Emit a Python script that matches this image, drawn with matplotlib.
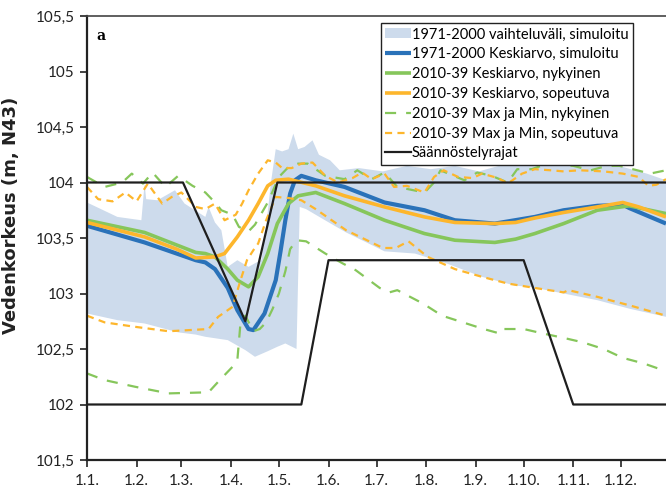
import matplotlib
matplotlib.use("Agg")
import matplotlib.pyplot as plt
import numpy as np

plt.rcParams['font.family'] = ['Lato', 'DejaVu Sans']

# päivä vuoden alusta (0 = 1.1.)
month_days = [0, 31, 59, 90, 120, 151, 181, 212, 243, 273, 304, 334]
month_labels = ["1.1.", "1.2.", "1.3.", "1.4.", "1.5.", "1.6.",
                "1.7.", "1.8.", "1.9.", "1.10.", "1.11.", "1.12."]

# 1971-2000 vaihteluväli (ylä- ja alareuna)
band_up_d = [0, 19, 34, 36, 37, 44, 55, 61, 74, 76, 80, 84, 88, 94, 101, 106, 109,
             112, 115, 118, 122, 126, 129, 132, 136, 141, 145, 152, 158, 170, 185,
             200, 215, 230, 245, 260, 275, 290, 305, 320, 335, 350, 362]
band_up_v = [103.82, 103.69, 103.66, 103.99, 103.85, 103.84, 103.93, 103.81, 103.69,
             103.78, 103.64, 103.57, 103.24, 103.30, 103.24, 103.28, 103.30, 103.60,
             104.00, 104.30, 104.28, 104.30, 104.44, 104.30, 104.32, 104.38, 104.25,
             104.20, 104.11, 104.13, 104.10, 104.15, 104.12, 104.15, 104.10, 104.16,
             104.18, 104.20, 104.16, 104.18, 104.14, 104.08, 104.02]
band_lo_d = [0, 19, 36, 57, 68, 74, 88, 99, 105, 113, 119, 124, 131, 133, 137, 150,
             162, 186, 205, 225, 247, 268, 277, 298, 319, 340, 362]
band_lo_v = [102.82, 102.76, 102.73, 102.65, 102.63, 102.61, 102.58, 102.49, 102.43,
             102.48, 102.52, 102.55, 102.50, 103.78, 103.76, 103.65, 103.55, 103.38,
             103.36, 103.27, 103.15, 103.07, 103.06, 103.00, 102.94, 102.86, 102.79]

# 1971-2000 keskiarvo, simuloitu
blue_d = [0, 36, 50, 68, 74, 80, 88, 94, 101, 104, 111, 118, 121, 124, 127, 130,
          134, 143, 161, 186, 211, 230, 255, 280, 298, 319, 335, 339, 362]
blue_v = [103.61, 103.46, 103.39, 103.30, 103.28, 103.22, 103.05, 102.85, 102.68,
          102.67, 102.82, 103.12, 103.38, 103.66, 103.90, 104.02, 104.06, 104.02,
          103.96, 103.82, 103.75, 103.66, 103.63, 103.69, 103.75, 103.79, 103.80,
          103.77, 103.63]

# 2010-39 keskiarvo, nykyinen
green_d = [0, 36, 68, 74, 80, 88, 94, 101, 107, 113, 119, 126, 132, 143, 161, 186,
           211, 230, 255, 268, 280, 298, 319, 339, 362]
green_v = [103.66, 103.55, 103.37, 103.36, 103.33, 103.22, 103.12, 103.06, 103.15,
           103.36, 103.63, 103.81, 103.88, 103.91, 103.81, 103.66, 103.54, 103.48,
           103.46, 103.49, 103.54, 103.63, 103.75, 103.79, 103.72]

# 2010-39 keskiarvo, sopeutuva
orange_d = [0, 36, 56, 68, 80, 86, 94, 101, 107, 113, 118, 126, 143, 161, 186, 211,
            230, 255, 268, 280, 298, 319, 335, 345, 362]
orange_v = [103.64, 103.51, 103.40, 103.32, 103.33, 103.36, 103.51, 103.66, 103.81,
            103.97, 104.02, 104.03, 103.97, 103.88, 103.78, 103.69, 103.64, 103.63,
            103.64, 103.68, 103.73, 103.78, 103.82, 103.78, 103.69]

# 2010-39 max ja min, nykyinen
gmax_d = [0, 11, 22, 28, 35, 41, 49, 57, 66, 74, 80, 84, 91, 95, 101, 105, 113, 120,
          126, 132, 138, 149, 161, 169, 178, 186, 194, 211, 217, 221, 236, 244, 253,
          263, 269, 278, 288, 304, 315, 325, 333, 344, 352, 362]
gmax_v = [104.05, 103.96, 104.00, 104.08, 103.99, 104.09, 103.96, 104.06, 103.97,
          103.91, 103.82, 103.75, 103.71, 103.60, 103.56, 103.62, 103.82, 104.05,
          104.14, 104.17, 104.17, 104.06, 104.03, 104.11, 104.03, 104.09, 103.96,
          103.91, 104.00, 104.11, 104.02, 104.09, 104.06, 104.00, 104.12, 104.12,
          104.17, 104.15, 104.11, 104.15, 104.15, 104.11, 104.08, 104.11]
gmin_d = [0, 11, 30, 51, 76, 83, 91, 94, 96, 99, 104, 108, 112, 116, 120, 124, 127,
          131, 137, 149, 160, 168, 183, 189, 194, 210, 222, 235, 248, 258, 260, 273,
          285, 298, 310, 323, 335, 348, 362]
gmin_v = [102.28, 102.22, 102.16, 102.10, 102.11, 102.22, 102.34, 102.40, 102.74,
          102.80, 102.66, 102.68, 102.74, 102.86, 103.00, 103.20, 103.40, 103.48,
          103.47, 103.36, 103.27, 103.21, 103.05, 103.01, 103.03, 102.91, 102.80,
          102.74, 102.68, 102.64, 102.68, 102.68, 102.64, 102.60, 102.56, 102.50,
          102.42, 102.37, 102.30]

# 2010-39 max ja min, sopeutuva
omax_d = [0, 7, 16, 24, 31, 38, 47, 53, 59, 68, 74, 80, 86, 93, 97, 101, 107, 113,
          118, 122, 128, 134, 141, 149, 157, 166, 172, 178, 186, 192, 200, 211, 217,
          223, 232, 241, 247, 257, 263, 272, 280, 290, 298, 308, 323, 335, 345, 351,
          356, 362]
omax_v = [103.96, 103.85, 103.83, 103.91, 103.83, 103.99, 103.81, 103.87, 103.91,
          103.78, 103.76, 103.81, 103.66, 103.71, 103.81, 103.93, 104.08, 104.20,
          104.18, 104.13, 104.13, 104.17, 104.18, 104.06, 104.00, 104.04, 104.09,
          104.03, 104.08, 103.96, 103.97, 103.91, 104.05, 104.11, 104.05, 104.04,
          104.08, 104.04, 103.99, 104.08, 104.12, 104.11, 104.10, 104.11, 104.10,
          104.08, 104.05, 103.97, 103.98, 104.03]
omin_d = [0, 11, 30, 51, 76, 82, 91, 96, 100, 104, 107, 112, 118, 126, 134, 143,
          150, 162, 175, 185, 193, 201, 213, 230, 247, 263, 280, 298, 301, 319, 340,
          362]
omin_v = [102.80, 102.74, 102.70, 102.66, 102.68, 102.79, 102.88, 103.12, 103.30,
          103.39, 103.45, 103.66, 103.87, 103.86, 103.84, 103.76, 103.69, 103.57,
          103.48, 103.41, 103.41, 103.47, 103.33, 103.22, 103.15, 103.09, 103.05,
          103.01, 103.03, 102.97, 102.89, 102.80]

# säännöstelyrajat
reg_up_d = [0, 60, 99, 119, 362]
reg_up_v = [104.0, 104.0, 102.75, 104.0, 104.0]
reg_lo_d = [0, 134, 151, 273, 304, 362]
reg_lo_v = [102.0, 102.0, 103.3, 103.3, 102.0, 102.0]

c_band = "#cddbec"
c_blue = "#2a72b9"
c_green = "#86c65b"
c_orange = "#fdb62c"
c_black = "#1e1e1e"

fig = plt.figure(figsize=(6.66, 4.93), dpi=100)
ax = fig.add_axes([87 / 666, 33 / 493, 579 / 666, 444 / 493])

ax.fill(band_up_d + band_lo_d[::-1], band_up_v + band_lo_v[::-1],
        color=c_band, lw=0, label="1971-2000 vaihteluväli, simuloitu")
ax.plot(blue_d, blue_v, color=c_blue, lw=3.0, solid_capstyle="butt",
        label="1971-2000 Keskiarvo, simuloitu")
ax.plot(green_d, green_v, color=c_green, lw=2.6, solid_capstyle="butt",
        label="2010-39 Keskiarvo, nykyinen")
ax.plot(orange_d, orange_v, color=c_orange, lw=2.6, solid_capstyle="butt",
        label="2010-39 Keskiarvo, sopeutuva")
ax.plot(gmax_d, gmax_v, color=c_green, lw=1.6, dashes=(5, 4.5),
        label="2010-39 Max ja Min, nykyinen")
ax.plot(gmin_d, gmin_v, color=c_green, lw=1.6, dashes=(5, 4.5))
ax.plot(omax_d, omax_v, color=c_orange, lw=1.6, dashes=(3.2, 2.4),
        label="2010-39 Max ja Min, sopeutuva")
ax.plot(omin_d, omin_v, color=c_orange, lw=1.6, dashes=(3.2, 2.4))
ax.plot(reg_up_d, reg_up_v, color=c_black, lw=1.6, label="Säännöstelyrajat")
ax.plot(reg_lo_d, reg_lo_v, color=c_black, lw=1.6)

ax.set_xlim(0, 362)
ax.set_ylim(101.5, 105.5)
ax.set_xticks(month_days)
ax.set_xticklabels(month_labels)
yt = np.arange(101.5, 105.51, 0.5)
ax.set_yticks(yt)
ax.set_yticklabels([f"{v:g}".replace(".", ",") for v in yt])
ax.tick_params(axis="both", direction="out", length=5, width=1.2,
               labelsize=11, colors="#222222")
ax.tick_params(axis="x", pad=5)
ax.tick_params(axis="y", pad=4)

for s in ["left", "bottom"]:
    ax.spines[s].set_linewidth(1.6)
    ax.spines[s].set_color("#222222")
ax.spines["top"].set_linewidth(1.2)
ax.spines["top"].set_color("#444444")
ax.spines["right"].set_visible(False)

ax.set_ylabel("Vedenkorkeus (m, N43)", fontsize=13, fontweight="bold",
              family="DejaVu Sans", color="#222222")
ax.yaxis.set_label_coords(-0.116, 0.55)
ax.text(0.017, 0.955, "a", transform=ax.transAxes, fontsize=10,
        fontweight="bold", family="DejaVu Serif", va="center")

leg = ax.legend(loc="upper right", bbox_to_anchor=(0.943, 0.984),
                borderaxespad=0, fontsize=10.5, fancybox=False, framealpha=1,
                handlelength=1.8, handletextpad=0.05, labelspacing=0.4,
                borderpad=0.3)
leg.get_frame().set_edgecolor("#222222")
leg.get_frame().set_linewidth(1.0)

fig.savefig("out.png", dpi=100)
